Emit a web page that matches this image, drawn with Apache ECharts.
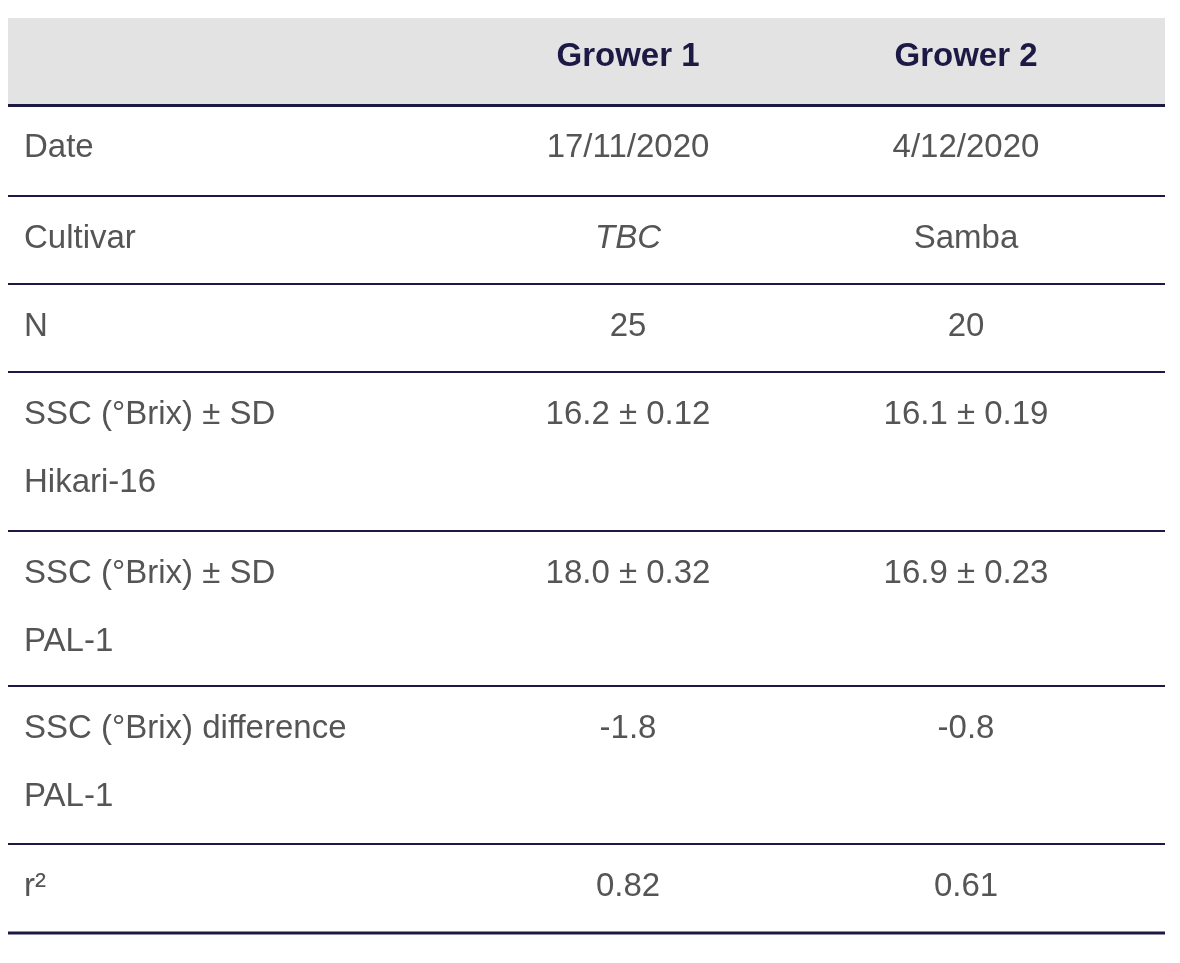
<!DOCTYPE html>
<html><head><meta charset="utf-8">
<script src="https://cdn.jsdelivr.net/npm/echarts@6/dist/echarts.min.js"></script>
<style>html,body{margin:0;padding:0;background:#fff}#c{width:1180px;height:963px}</style>
</head><body><div id="c"></div>
<script>
const headers = ["", "Grower 1", "Grower 2"];
const rowLabels = [["Date"], ["Cultivar"], ["N"], ["SSC (°Brix) ± SD", "Hikari-16"], ["SSC (°Brix) ± SD", "PAL-1"], ["SSC (°Brix) difference", "PAL-1"], ["r²"]];
const grower1 = ["17/11/2020", "TBC", "25", "16.2 ± 0.12", "18.0 ± 0.32", "-1.8", "0.82"];
const grower2 = ["4/12/2020", "Samba", "20", "16.1 ± 0.19", "16.9 ± 0.23", "-0.8", "0.61"];

const rowTops = [105, 196, 284, 372, 531, 686, 844];
const rowBottoms = [196, 284, 372, 531, 686, 844, 933];
const left = 8, right = 1165, col1 = 628, col2 = 966, labelX = 24;
const font = '"Liberation Sans", Arial, sans-serif';
const grey = '#555555', navy = '#1c1a45';
const g = [];
g.push({type:'rect', shape:{x:left,y:18,width:right-left,height:87}, style:{fill:'#e3e3e3'}});
g.push({type:'text', x:col1, y:57, style:{text:headers[1], fill:navy, font:'bold 33px '+font, align:'center', verticalAlign:'middle'}});
g.push({type:'text', x:col2, y:57, style:{text:headers[2], fill:navy, font:'bold 33px '+font, align:'center', verticalAlign:'middle'}});
g.push({type:'rect', shape:{x:left,y:104,width:right-left,height:3}, style:{fill:navy}});
rowLabels.forEach((lab, i) => {
  const y0 = rowTops[i] + 43;
  lab.forEach((t, k) => {
    g.push({type:'text', x:labelX, y:y0 + k*68, style:{text:t, fill:grey, font:'33px '+font, align:'left', verticalAlign:'middle'}});
  });
  g.push({type:'text', x:col1, y:y0, style:{text:grower1[i], fill:grey, font:(i===1?'italic ':'')+'33px '+font, align:'center', verticalAlign:'middle'}});
  g.push({type:'text', x:col2, y:y0, style:{text:grower2[i], fill:grey, font:'33px '+font, align:'center', verticalAlign:'middle'}});
  const last = i === rowLabels.length - 1;
  g.push({type:'rect', shape:{x:left,y:rowBottoms[i]-(last?1.5:1),width:right-left,height:last?3:2}, style:{fill:navy}});
});
const chart = echarts.init(document.getElementById('c'));
chart.setOption({backgroundColor:'#fff', graphic:g});
</script></body></html>
